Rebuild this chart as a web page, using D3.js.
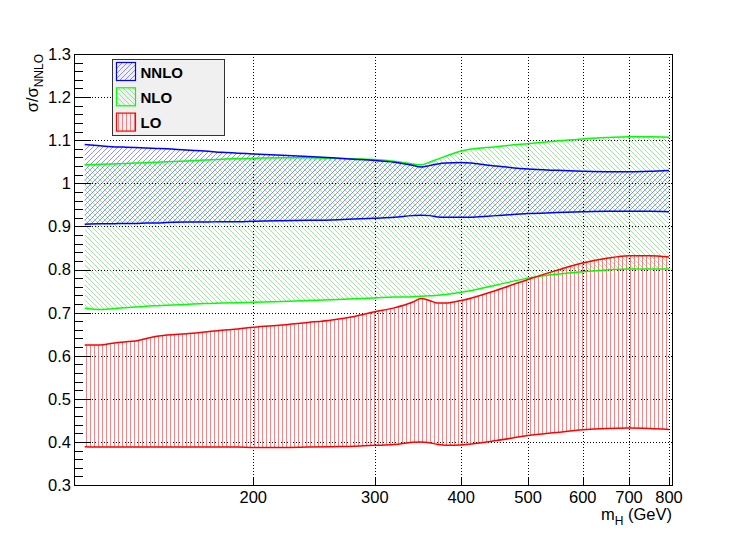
<!DOCTYPE html>
<html>
<head>
<meta charset="utf-8">
<script src="https://cdn.jsdelivr.net/npm/d3@7"></script>
<style>
  body { margin: 0; background: #fff; }
  text { font-family: "Liberation Sans", Arial, Helvetica, sans-serif; }
</style>
</head>
<body>
<div id="plot"></div>
<script>
// Higgs mass points (GeV)
var masses = [114, 120, 125, 130, 135, 140, 145, 150, 160, 170, 180, 190, 200, 220, 240, 260, 280,
    300, 320, 340, 350, 360, 370, 380, 400, 450, 500, 550, 600, 650, 700, 750, 800];

// sigma / sigma_NNLO band edges
var nnloHi = [1.090, 1.087, 1.085, 1.084, 1.083, 1.082, 1.081, 1.080, 1.077, 1.075, 1.072, 1.070, 1.068, 1.065, 1.062, 1.059, 1.056,
    1.053, 1.049, 1.042, 1.038, 1.041, 1.045, 1.047, 1.048, 1.040, 1.033, 1.030, 1.028, 1.027, 1.027, 1.028, 1.030];
var nnloLo = [0.905, 0.906, 0.906, 0.907, 0.907, 0.908, 0.908, 0.909, 0.910, 0.910, 0.911, 0.911, 0.912, 0.913, 0.914, 0.915, 0.917,
    0.919, 0.921, 0.925, 0.926, 0.925, 0.922, 0.921, 0.921, 0.925, 0.930, 0.932, 0.934, 0.935, 0.935, 0.935, 0.934];
var nloHi = [1.043, 1.044, 1.045, 1.046, 1.047, 1.048, 1.049, 1.050, 1.052, 1.054, 1.056, 1.057, 1.058, 1.059, 1.059, 1.058, 1.057,
    1.055, 1.051, 1.045, 1.043, 1.049, 1.056, 1.063, 1.075, 1.085, 1.092, 1.098, 1.103, 1.106, 1.108, 1.108, 1.107];
var nloLo = [0.710, 0.707, 0.709, 0.711, 0.713, 0.715, 0.716, 0.717, 0.719, 0.721, 0.722, 0.723, 0.724, 0.726, 0.728, 0.730, 0.732,
    0.734, 0.736, 0.737, 0.738, 0.739, 0.740, 0.742, 0.747, 0.764, 0.780, 0.789, 0.795, 0.799, 0.801, 0.801, 0.801];
var loHi = [0.625, 0.625, 0.629, 0.632, 0.634, 0.640, 0.645, 0.648, 0.651, 0.655, 0.659, 0.662, 0.666, 0.671, 0.677, 0.683, 0.691,
    0.702, 0.711, 0.724, 0.733, 0.728, 0.722, 0.722, 0.728, 0.752, 0.777, 0.798, 0.815, 0.826, 0.832, 0.832, 0.829];
var loLo = [0.389, 0.388, 0.388, 0.388, 0.388, 0.388, 0.388, 0.388, 0.388, 0.388, 0.388, 0.388, 0.387, 0.387, 0.388, 0.389, 0.390,
    0.392, 0.394, 0.399, 0.400, 0.398, 0.394, 0.392, 0.393, 0.403, 0.415, 0.422, 0.428, 0.431, 0.432, 0.431, 0.429];

var xTicks = [200, 300, 400, 500, 600, 700, 800];
var yTicks = [0.3, 0.4, 0.5, 0.6, 0.7, 0.8, 0.9, 1.0, 1.1, 1.2, 1.3];

var bands = [
    { name: "NLO", hi: nloHi, lo: nloLo, color: "#00ff00", hatch: "hatchNLO" },
    { name: "NNLO", hi: nnloHi, lo: nnloLo, color: "#0000ff", hatch: "hatchNNLO" },
    { name: "LO", hi: loHi, lo: loLo, color: "#ff0000", hatch: "hatchLO" }
];
var legendOrder = ["NNLO", "NLO", "LO"];

var svgWidth = 747;
var svgHeight = 539;
var frame = { left: 74, right: 672, top: 54, bottom: 485 };

var svg = d3.select("#plot")
    .append("svg")
    .attr("width", svgWidth)
    .attr("height", svgHeight);

var x = d3.scaleLog().domain([110, 808]).range([frame.left, frame.right]);
var y = d3.scaleLinear().domain([0.3, 1.3]).range([frame.bottom, frame.top]);

// hatch patterns, ROOT style 3004 / 3005 / vertical
var defs = svg.append("defs");
function addPattern(id, size, d, color, width) {
    defs.append("pattern")
        .attr("id", id)
        .attr("patternUnits", "userSpaceOnUse")
        .attr("width", size)
        .attr("height", size)
        .append("path")
        .attr("d", d)
        .attr("stroke", color)
        .attr("stroke-width", width)
        .attr("fill", "none");
}
addPattern("hatchNNLO", 5, "M-1,1 L1,-1 M0,5 L5,0 M4,6 L6,4", "#4848ff", 0.6);
addPattern("hatchNLO", 5, "M-1,4 L1,6 M0,0 L5,5 M4,-1 L6,1", "#50d850", 0.55);
addPattern("hatchLO", 4, "M2.5,0 L2.5,4", "#f07878", 0.9);

defs.append("clipPath").attr("id", "frameClip")
    .append("rect")
    .attr("x", frame.left).attr("y", frame.top)
    .attr("width", frame.right - frame.left).attr("height", frame.bottom - frame.top);

// grid
var gridGroup = svg.append("g")
    .attr("stroke", "#000")
    .attr("stroke-width", 1)
    .attr("stroke-dasharray", "1,2");
gridGroup.selectAll("line.gy")
    .data(yTicks.slice(1, -1))
    .enter()
    .append("line")
    .attr("x1", frame.left).attr("x2", frame.right)
    .attr("y1", d => Math.round(y(d)) + 0.5)
    .attr("y2", d => Math.round(y(d)) + 0.5);
gridGroup.selectAll("line.gx")
    .data(xTicks)
    .enter()
    .append("line")
    .attr("y1", frame.top).attr("y2", frame.bottom)
    .attr("x1", d => Math.round(x(d)) + 0.5)
    .attr("x2", d => Math.round(x(d)) + 0.5);

// bands
var plotGroup = svg.append("g").attr("clip-path", "url(#frameClip)");

var area = d3.area()
    .x(d => x(d.m))
    .y0(d => y(d.lo))
    .y1(d => y(d.hi))
    .curve(d3.curveMonotoneX);
var line = d3.line()
    .x(d => x(d.m))
    .y(d => y(d.v))
    .curve(d3.curveMonotoneX);

bands.forEach(function (b) {
    var pts = masses.map((m, i) => ({ m: m, hi: b.hi[i], lo: b.lo[i] }));
    plotGroup.append("path")
        .datum(pts)
        .attr("d", area)
        .attr("fill", "url(#" + b.hatch + ")")
        .attr("stroke", "none");
});

bands.forEach(function (b) {
    ["hi", "lo"].forEach(function (k) {
        var pts = masses.map((m, i) => ({ m: m, v: b[k][i] }));
        plotGroup.append("path")
            .datum(pts)
            .attr("d", line)
            .attr("fill", "none")
            .attr("stroke", b.color)
            .attr("stroke-width", 1.5);
    });
});

// frame
svg.append("rect")
    .attr("x", frame.left + 0.5).attr("y", frame.top + 0.5)
    .attr("width", frame.right - frame.left).attr("height", frame.bottom - frame.top)
    .attr("fill", "none")
    .attr("stroke", "#000")
    .attr("stroke-width", 1);

// y axis ticks (inward)
var minorY = d3.range(0.3, 1.3001, 0.02);
svg.append("g").selectAll("line")
    .data(minorY)
    .enter()
    .append("line")
    .attr("x1", frame.left)
    .attr("x2", frame.left + 9)
    .attr("y1", d => Math.round(y(d)) + 0.5)
    .attr("y2", d => Math.round(y(d)) + 0.5)
    .attr("stroke", "#000");
svg.append("g").selectAll("line")
    .data(yTicks)
    .enter()
    .append("line")
    .attr("x1", frame.left)
    .attr("x2", frame.left + 17)
    .attr("y1", d => Math.round(y(d)) + 0.5)
    .attr("y2", d => Math.round(y(d)) + 0.5)
    .attr("stroke", "#000");
svg.append("g").selectAll("text")
    .data(yTicks)
    .enter()
    .append("text")
    .attr("x", frame.left - 3)
    .attr("y", d => y(d))
    .attr("dy", "0.36em")
    .attr("text-anchor", "end")
    .attr("font-size", 16.5)
    .text(d3.format("~g"));

// x axis ticks
svg.append("g").selectAll("line")
    .data(xTicks)
    .enter()
    .append("line")
    .attr("x1", d => Math.round(x(d)) + 0.5)
    .attr("x2", d => Math.round(x(d)) + 0.5)
    .attr("y1", frame.bottom)
    .attr("y2", frame.bottom - 8)
    .attr("stroke", "#000");
svg.append("g").selectAll("text")
    .data(xTicks)
    .enter()
    .append("text")
    .attr("x", d => x(d))
    .attr("y", 503)
    .attr("text-anchor", "middle")
    .attr("font-size", 16.5)
    .text(d => d);

// axis titles
var xTitle = svg.append("text")
    .attr("x", frame.right)
    .attr("y", 520)
    .attr("text-anchor", "end")
    .attr("font-size", 16.5);
xTitle.append("tspan").text("m");
xTitle.append("tspan").attr("font-size", 12).attr("dy", 5).text("H");
xTitle.append("tspan").attr("dy", -5).text(" (GeV)");

var yTitle = svg.append("text")
    .attr("transform", `translate(38, ${frame.top}) rotate(-90)`)
    .attr("text-anchor", "end")
    .attr("font-size", 16.5);
yTitle.append("tspan").text("σ/σ");
yTitle.append("tspan").attr("font-size", 12).attr("dy", 5).text("NNLO");

// legend
var legend = svg.append("g");
legend.append("rect")
    .attr("x", 112.5).attr("y", 59.5)
    .attr("width", 112).attr("height", 76)
    .attr("fill", "#f0f0f0")
    .attr("stroke", "#333")
    .attr("stroke-width", 1);

legendOrder.forEach(function (name, i) {
    var b = bands.find(d => d.name === name);
    var cy = 71.5 + i * 25.3;
    legend.append("rect")
        .attr("x", 116.5).attr("y", cy - 9)
        .attr("width", 19).attr("height", 18)
        .attr("fill", "url(#" + b.hatch + ")")
        .attr("stroke", b.color)
        .attr("stroke-width", 1.2);
    legend.append("text")
        .attr("x", 140.5)
        .attr("y", cy + 6)
        .attr("font-size", 15)
        .attr("font-weight", "bold")
        .text(name);
});
</script>
</body>
</html>
